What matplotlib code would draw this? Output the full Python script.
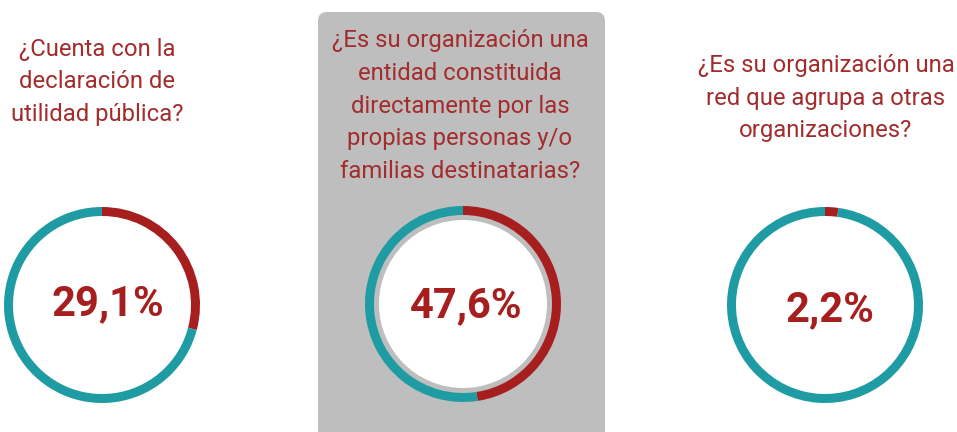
import numpy as np
import matplotlib.pyplot as plt
from matplotlib.patches import FancyBboxPatch, Circle

# data
titles = ['¿Cuenta con la\ndeclaración de\nutilidad pública?',
          '¿Es su organización una\nentidad constituida\ndirectamente por las\npropias personas y/o\nfamilias destinatarias?',
          '¿Es su organización una\nred que agrupa a otras\norganizaciones?']
values = [29.1, 47.6, 2.2]
labels = ['29,1%', '47,6%', '2,2%']

red = '#a61e1e'
teal = '#1f9ca3'
title_col = '#a32c2c'
W, H = 957, 432

fig = plt.figure(figsize=(W / 100, H / 100), dpi=100)
ax = fig.add_axes([0, 0, 1, 1])

# layout in pixels (image coords, y down)
centers = [(102, 305), (463, 304), (825, 305)]
title_x = [97, 460, 826]
title_y = [82, 106, 98]
label_x = [108, 466, 830]
label_y = [304, 306, 310]
R = 98
ring = 9

def yy(y):
    return H - y

# gray panel behind the middle question
panel = FancyBboxPatch((318, yy(445)), 287, 433, boxstyle='round,pad=0,rounding_size=9',
                       fc='#bebebe', ec='none', zorder=0)
ax.add_patch(panel)

for i, v in enumerate(values):
    cx, cy = centers[i]
    if i == 1:
        ax.add_patch(Circle((cx, yy(cy)), 84, fc='white', ec='none', zorder=1))
    ax.pie([v, 100 - v], colors=[red, teal], startangle=90, counterclock=False,
           center=(cx, yy(cy)), radius=R, wedgeprops=dict(width=ring, linewidth=0),
           frame=True)
    ax.text(label_x[i], yy(label_y[i]), labels[i], ha='center', va='center', fontsize=30,
            fontweight='bold', family='Roboto', color=red, zorder=5)
    ax.text(title_x[i], yy(title_y[i]), titles[i], ha='center', va='center',
            fontsize=17.2, family='Roboto', color=title_col, linespacing=1.55, zorder=5)

ax.set_xlim(0, W)
ax.set_ylim(0, H)
ax.set_aspect('auto')
ax.axis('off')

fig.savefig('out.png', dpi=100, facecolor='white')
